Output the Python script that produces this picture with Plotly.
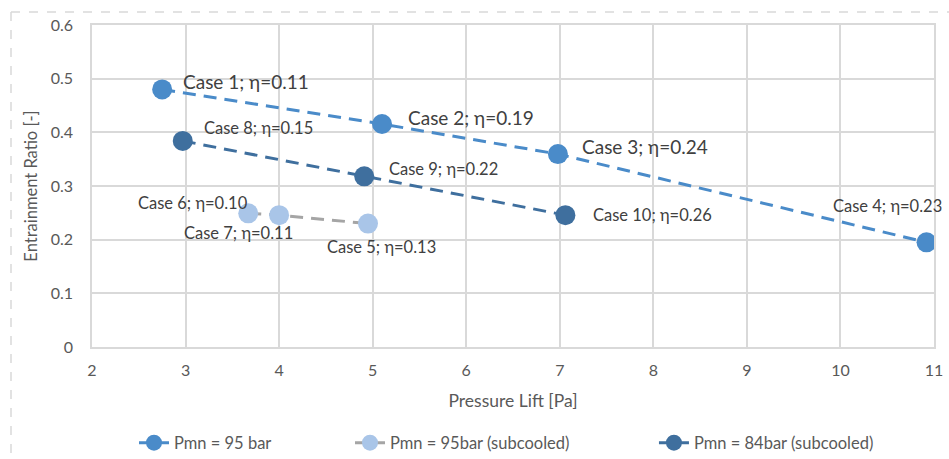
import plotly.graph_objects as go

# Series data
s1_name = "Pmn = 95 bar"
s1_x = [2.75, 5.10, 6.98, 10.92]
s1_y = [0.480, 0.4155, 0.3595, 0.195]
s1_labels = ["Case 1; η=0.11", "Case 2; η=0.19", "Case 3; η=0.24", "Case 4; η=0.23"]

s2_name = "Pmn = 95bar (subcooled)"
s2_x = [3.67, 4.00, 4.95]
s2_y = [0.249, 0.2457, 0.230]
s2_labels = ["Case 6; η=0.10", "Case 7; η=0.11", "Case 5; η=0.13"]

s3_name = "Pmn = 84bar (subcooled)"
s3_x = [2.97, 4.91, 7.06]
s3_y = [0.384, 0.318, 0.2457]
s3_labels = ["Case 8; η=0.15", "Case 9; η=0.22", "Case 10; η=0.26"]

x_ticks = [2, 3, 4, 5, 6, 7, 8, 9, 10, 11]
y_ticks = [0, 0.1, 0.2, 0.3, 0.4, 0.5, 0.6]
y_ticktext = ["0", "0.1", "0.2", "0.3", "0.4", "0.5", "0.6"]

FONT = "Lato, 'Open Sans', sans-serif"
C1 = "#4A8BC9"
C2_M = "#A9C5E8"
C2_L = "#A5A5A5"
C3 = "#3F6F9E"
DASH = "13px,8px"

fig = go.Figure()
fig.add_trace(go.Scatter(x=s1_x, y=s1_y, name=s1_name, mode="lines+markers",
                         line=dict(color=C1, width=3, dash=DASH),
                         marker=dict(color=C1, size=20), legend="legend"))
fig.add_trace(go.Scatter(x=s2_x, y=s2_y, name=s2_name, mode="lines+markers",
                         line=dict(color=C2_L, width=3, dash=DASH),
                         marker=dict(color=C2_M, size=20), legend="legend2"))
fig.add_trace(go.Scatter(x=s3_x, y=s3_y, name=s3_name, mode="lines+markers",
                         line=dict(color=C3, width=3, dash=DASH),
                         marker=dict(color=C3, size=20), legend="legend3"))

BIG, SMALL = 19, 16.5
# label styles: (xanchor, xshift, yshift, size)
s1_style = [("left", 19, 8, BIG), ("left", 24, 7, BIG), ("left", 22, 8, BIG), ("right", 17, 36, SMALL)]
s2_style = [("right", 2, 10, SMALL), ("right", 16, -18, SMALL), ("center", 14, -23, SMALL)]
s3_style = [("left", 19, 13, SMALL), ("left", 23, 7, SMALL), ("left", 26, 0, SMALL)]

for xs, ys, labs, sty in [(s1_x, s1_y, s1_labels, s1_style),
                          (s2_x, s2_y, s2_labels, s2_style),
                          (s3_x, s3_y, s3_labels, s3_style)]:
    for xv, yv, lab, (xa, dx, dy, fs) in zip(xs, ys, labs, sty):
        fig.add_annotation(x=xv, y=yv, text=lab, showarrow=False, xanchor=xa, yanchor="middle",
                           xshift=dx, yshift=dy, font=dict(family=FONT, size=fs, color="#404040"))

# outer dashed chart-area border
border = dict(color="#D9D9D9", width=1.5, dash="dash")
fig.add_shape(type="line", xref="paper", yref="paper", x0=-0.0962, x1=1.02, y0=1.0404, y1=1.0404, line=border)
fig.add_shape(type="line", xref="paper", yref="paper", x0=-0.0962, x1=-0.0962, y0=1.0404, y1=-0.36, line=border)

TXT = "#595959"
legend_common = dict(orientation="h", xref="container", yref="container",
                     yanchor="middle", y=0.035, xanchor="left",
                     font=dict(family=FONT, size=16.5, color=TXT),
                     bgcolor="rgba(0,0,0,0)", borderwidth=0)

fig.update_layout(
    width=949, height=459,
    margin=dict(l=92, r=15, t=25, b=112),
    paper_bgcolor="white", plot_bgcolor="white",
    font=dict(family=FONT, color=TXT),
    showlegend=True,
    legend=dict(legend_common, x=0.1412),
    legend2=dict(legend_common, x=0.3688),
    legend3=dict(legend_common, x=0.6891),
    xaxis=dict(range=[2, 11], tickvals=x_ticks, ticktext=[str(v) for v in x_ticks],
               showgrid=True, gridcolor="#D9D9D9", gridwidth=1.5,
               showline=True, linecolor="#D9D9D9", linewidth=1.5, mirror=True,
               zeroline=False, ticks="", ticklabelstandoff=8, automargin=False,
               tickfont=dict(family=FONT, size=16, color=TXT),
               title=dict(text="Pressure Lift [Pa]", font=dict(family=FONT, size=17.5, color=TXT), standoff=17)),
    yaxis=dict(range=[0, 0.6], tickvals=y_ticks, ticktext=y_ticktext,
               showgrid=True, gridcolor="#D9D9D9", gridwidth=1.5,
               showline=True, linecolor="#D9D9D9", linewidth=1.5, mirror=True,
               zeroline=False, ticks="", ticklabelstandoff=14, automargin=False,
               tickfont=dict(family=FONT, size=16, color=TXT),
               title=dict(text="Entrainment Ratio [-]", font=dict(family=FONT, size=16.5, color=TXT), standoff=9)),
)

fig.write_html("out.html", config={"displayModeBar": False},
               post_script="document.body.style.margin='0';")
